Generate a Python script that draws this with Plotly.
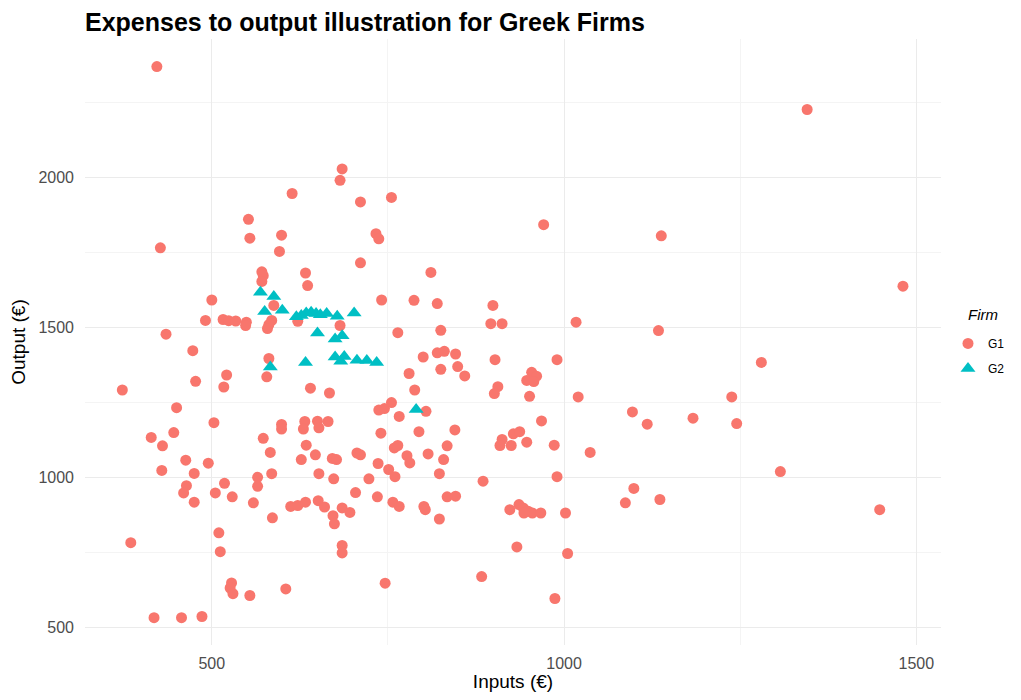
import plotly.graph_objects as go

# Firm group G1
g1_inputs = [
    422, 685, 682, 614, 711, 552, 554, 599, 596, 427, 733, 737, 711, 571, 573,
    571, 633, 636, 500, 588, 491, 516, 524, 534, 549, 548, 585, 581, 579, 622,
    682, 435, 473, 581, 521, 477, 517, 578, 373, 640, 667, 741, 755, 971, 1138,
    811, 787, 820, 899, 896, 912, 1017, 1134, 764, 825, 800, 820, 830, 846, 902,
    990, 780, 825, 849, 859, 788, 906, 901, 954, 961, 947, 957, 951, 1020, 755,
    450, 503, 414, 446, 430, 463, 495, 429, 475, 464, 460, 475, 505, 518, 529,
    573, 583, 599, 599, 632, 630, 650, 652, 665, 634, 627, 647, 671, 677, 706,
    711, 737, 745, 740, 736, 565, 565, 585, 652, 673, 723, 704, 735, 559, 586,
    612, 622, 633, 651, 660, 672, 674, 685, 696, 385, 510, 512, 685, 685, 528,
    526, 530, 554, 605, 418, 457, 486, 746, 766, 804, 794, 845, 759, 764, 777,
    781, 807, 834, 829, 751, 760, 823, 757, 766, 801, 803, 823, 834, 846, 885,
    912, 909, 925, 928, 937, 947, 968, 986, 990, 1037, 1097, 1118, 923, 936, 942,
    949, 955, 943, 967, 1002, 1087, 1099, 1136, 933, 1005, 883, 987, 1238, 1183,
    1245, 1307, 1448, 1345, 1481, 1280,
]
g1_output = [
    2369, 2028, 1990, 1946, 1918, 1860, 1797, 1807, 1753, 1765, 1812, 1795, 1715, 1685, 1672,
    1653, 1681, 1639, 1591, 1573, 1523, 1526, 1522, 1521, 1517, 1506, 1523, 1509, 1496, 1520,
    1506, 1477, 1422, 1396, 1341, 1320, 1301, 1335, 1291, 1297, 1281, 1591, 1933, 1842, 1805,
    1683, 1590, 1579, 1573, 1512, 1512, 1517, 1489, 1482, 1490, 1401, 1415, 1420, 1411, 1392,
    1392, 1346, 1360, 1369, 1338, 1291, 1302, 1279, 1350, 1337, 1323, 1319, 1270, 1268, 1249,
    1232, 1182, 1133, 1149, 1105, 1057, 1047, 1023, 1013, 972, 948, 917, 948, 980, 935,
    1130, 1083, 1176, 1161, 1186, 1161, 1187, 1165, 1186, 1107, 1059, 1075, 1063, 1059, 1081,
    1075, 1224, 1229, 1147, 1046, 1000, 970, 1012, 1012, 995, 995, 949, 935, 915, 865,
    903, 906, 917, 922, 901, 872, 845, 898, 883, 782, 815, 752, 773, 748, 648,
    631, 612, 606, 628, 532, 532, 536, 647, 1203, 1220, 1152, 1158, 1098, 1106, 1072,
    1048, 1078, 1105, 1059, 1026, 1002, 1012, 917, 903, 903, 892, 861, 935, 937, 987,
    1126, 1106, 1106, 1145, 1152, 1117, 1188, 1107, 1002, 1083, 1218, 1177, 892, 909, 898,
    887, 881, 881, 881, 881, 915, 963, 926, 768, 746, 669, 596, 1268, 1197,
    1179, 1019, 892, 2226, 1637, 1383,
]

# Firm group G2
g2_inputs = [
    569, 588, 575, 600, 620, 627, 634, 641, 648, 654, 663, 678, 702,
    650, 675, 685, 633, 583, 675, 688, 683, 706, 720, 734, 790,
]
g2_output = [
    1617, 1603, 1553, 1557, 1535, 1539, 1548, 1550, 1546, 1542, 1546, 1537, 1548,
    1481, 1461, 1472, 1383, 1368, 1401, 1403, 1387, 1390, 1389, 1383, 1226,
]

FONT = "Liberation Sans, Arial, sans-serif"
W, H = 1013, 684  # page body keeps an 8px margin around the figure


def build_figure():
    fig = go.Figure()
    fig.add_trace(go.Scatter(
        x=g1_inputs, y=g1_output, mode="markers", name="G1", legendgroup="G1",
        marker=dict(symbol="circle", size=11, color="#F8766D"),
    ))
    fig.add_trace(go.Scatter(
        x=g2_inputs, y=g2_output, mode="markers", name="G2", legendgroup="G2",
        marker=dict(symbol="triangle-up", size=13, color="#00BFC4"),
    ))

    axis_common = dict(
        showline=False, zeroline=False, ticks="", automargin=False,
        gridcolor="#EBEBEB", gridwidth=1,
        tickfont=dict(size=16, color="#4D4D4D", family=FONT),
        title_font=dict(size=19, color="#000000", family=FONT),
    )
    fig.update_xaxes(
        range=[320, 1535], tick0=0, dtick=500, ticklabelstandoff=7,
        minor=dict(dtick=250, showgrid=True, gridcolor="#F4F4F4", gridwidth=1),
        title_text="Inputs (€)", title_standoff=8, **axis_common,
    )
    fig.update_yaxes(
        range=[441, 2461], tick0=0, dtick=500, ticklabelstandoff=10,
        minor=dict(dtick=250, showgrid=True, gridcolor="#F4F4F4", gridwidth=1),
        title_text="Output (€)", title_standoff=10, **axis_common,
    )

    fig.add_annotation(
        text="<i>Firm</i>", xref="paper", yref="paper",
        x=1.029, y=0.5446, xanchor="left", yanchor="middle",
        showarrow=False, font=dict(size=15, family=FONT, color="#000000"),
    )

    fig.update_layout(
        width=W, height=H,
        paper_bgcolor="white", plot_bgcolor="white",
        margin=dict(l=77, r=79, t=31, b=47),
        font=dict(family=FONT, color="#000000"),
        title=dict(
            text="<b>Expenses to output illustration for Greek Firms</b>",
            x=77 / W, xanchor="left", xref="container",
            y=1 - 14.5 / H, yanchor="middle", yref="container",
            font=dict(size=25, family=FONT, color="#000000"),
        ),
        legend=dict(
            x=1.007, xanchor="left", y=0.5215, yanchor="top",
            font=dict(size=12, family=FONT, color="#000000"),
            traceorder="grouped", tracegroupgap=6,
            bgcolor="rgba(0,0,0,0)",
        ),
    )
    return fig


def main():
    fig = build_figure()
    fig.write_html("out.html")


if __name__ == "__main__":
    main()
